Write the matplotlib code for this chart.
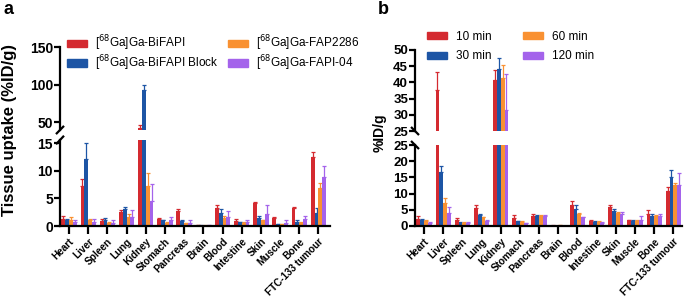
import numpy as np
import matplotlib
matplotlib.use('Agg')
import matplotlib.pyplot as plt
from matplotlib.patches import Patch

plt.rcParams['font.family'] = ['Liberation Sans', 'DejaVu Sans']

organs = ['Heart', 'Liver', 'Spleen', 'Lung', 'Kidney', 'Stomach', 'Pancreas',
          'Brain', 'Blood', 'Intestine', 'Skin', 'Muscle', 'Bone', 'FTC-133 tumour']

# panel a: tracers (mean, upper SD)
labels_a = ['[$^{68}$Ga]Ga-BiFAPI', '[$^{68}$Ga]Ga-BiFAPI Block',
            '[$^{68}$Ga]Ga-FAP2286', '[$^{68}$Ga]Ga-FAPI-04']
bifapi = [1.35, 7.3, 0.97, 2.5, 42.0, 1.2, 2.7, 0.1, 3.3, 0.9, 4.2, 1.45, 3.2, 12.6]
bifapi_sd = [0.4, 1.2, 0.25, 0.35, 4.0, 0.2, 0.45, 0.05, 0.6, 0.4, 0.2, 0.25, 0.25, 0.8]
block = [1.15, 12.1, 1.1, 3.15, 93.0, 1.0, 0.9, 0.05, 2.4, 0.7, 1.5, 0.3, 0.8, 2.3]
block_sd = [0.1, 3.0, 0.4, 0.25, 6.5, 0.1, 0.1, 0.05, 0.7, 0.1, 0.3, 0.1, 0.2, 1.0]
fap2286 = [1.1, 1.15, 0.6, 1.6, 7.2, 0.6, 0.5, 0.05, 1.5, 0.6, 1.0, 0.35, 0.6, 6.9]
fap2286_sd = [0.6, 0.1, 0.1, 0.6, 2.4, 0.1, 0.1, 0.05, 0.3, 0.2, 0.1, 0.1, 0.2, 0.9]
fapi04 = [0.67, 0.7, 0.55, 1.7, 4.5, 1.0, 0.5, 0.1, 1.6, 0.8, 2.1, 0.5, 1.3, 8.8]
fapi04_sd = [0.5, 0.5, 0.45, 1.15, 3.1, 0.6, 0.5, 0.05, 1.1, 0.25, 1.8, 0.6, 0.6, 2.1]

# panel b: BiFAPI time points
labels_b = ['10 min', '30 min', '60 min', '120 min']
t10 = [2.3, 37.7, 1.75, 5.5, 40.8, 2.6, 3.1, 0.1, 6.6, 1.45, 5.8, 1.75, 3.8, 10.7]
t10_sd = [0.7, 5.5, 0.85, 0.9, 2.9, 0.7, 0.75, 0.1, 1.0, 0.3, 0.8, 0.2, 1.2, 1.2]
t30 = [1.75, 16.7, 1.0, 3.5, 44.0, 1.4, 3.2, 0.1, 5.2, 1.2, 4.7, 1.5, 3.2, 15.2]
t30_sd = [0.35, 1.9, 0.2, 0.3, 3.4, 0.2, 0.3, 0.05, 1.2, 0.2, 0.7, 0.2, 0.6, 2.1]
t60 = [1.5, 7.0, 0.9, 2.7, 41.3, 1.2, 3.1, 0.2, 3.6, 1.1, 4.1, 1.6, 3.2, 12.7]
t60_sd = [0.4, 1.5, 0.2, 0.2, 4.2, 0.3, 0.3, 0.1, 0.4, 0.4, 0.3, 0.3, 0.3, 0.6]
t120 = [1.0, 3.9, 1.0, 1.6, 31.6, 0.8, 3.1, 0.05, 2.7, 0.8, 3.8, 1.75, 3.1, 12.7]
t120_sd = [0.2, 2.0, 0.2, 0.15, 10.9, 0.2, 0.3, 0.05, 0.2, 0.3, 0.6, 1.25, 0.7, 3.7]

colors = ['#D42A30', '#1D55A5', '#F99132', '#A463EB']

W, H = 685, 297
fig = plt.figure(figsize=(W / 100, H / 100), dpi=100)


def px_axes(left, right, top, bottom):
    return fig.add_axes([left / W, 1 - bottom / H, (right - left) / W, (bottom - top) / H])


def draw_bars(ax, series, sds):
    x = np.arange(len(organs))
    w = 0.2
    for i, (vals, sd) in enumerate(zip(series, sds)):
        pos = x + (i - 1.5) * w
        ax.bar(pos, vals, width=w, color=colors[i], linewidth=0, zorder=2)
        ax.errorbar(pos, vals, yerr=[np.zeros(len(vals)), sd], fmt='none',
                    ecolor=colors[i], elinewidth=0.9, capsize=1.2, capthick=0.9, zorder=1)


def style(ax, upper, yticks, ysize):
    ax.spines['top'].set_visible(False)
    ax.spines['right'].set_visible(False)
    ax.spines['left'].set_linewidth(1.6)
    ax.spines['bottom'].set_linewidth(1.6)
    ax.set_yticks(yticks)
    ax.tick_params(axis='y', width=1.6, length=4, labelsize=ysize, pad=1)
    for t in ax.get_yticklabels():
        t.set_fontweight('bold')
    if upper:
        ax.spines['bottom'].set_visible(False)
        ax.set_xticks([])
    else:
        ax.set_xticks(np.arange(len(organs)))
        ax.set_xticklabels(organs, rotation=45, ha='right', rotation_mode='anchor',
                           fontsize=7.2, fontweight='bold')
        ax.tick_params(axis='x', width=1.6, length=6, pad=1.5)


def break_mark(ax, y, slope):
    ax.plot([-0.012, 0.012], [y - slope * 0.04, y + slope * 0.04], transform=ax.transAxes,
            color='black', lw=1.6, clip_on=False, zorder=5)


# ---- panel a
xlim_a = (-0.47, 13.6)
a_up = px_axes(60, 330, 47, 130)
a_lo = px_axes(60, 330, 140, 226)
series_a = [bifapi, block, fap2286, fapi04]
sds_a = [bifapi_sd, block_sd, fap2286_sd, fapi04_sd]
for ax in (a_up, a_lo):
    draw_bars(ax, series_a, sds_a)
    ax.set_xlim(*xlim_a)
a_up.set_ylim(40, 150)
a_lo.set_ylim(0, 15.6)
style(a_up, True, [50, 100, 150], 10)
style(a_lo, False, [0, 5, 10, 15], 10)
break_mark(a_up, 0, 1)
break_mark(a_lo, 1, 1)
fig.text(10 / W, 1 - 130 / H, 'Tissue uptake (%ID/g)', rotation=90, ha='center', va='center',
         fontsize=12, fontweight='bold')
fig.text(3 / W, 1 - 10 / H, 'a', fontsize=13, fontweight='bold', va='center')

handles_a = [Patch(color=c, label=l) for c, l in zip(colors, labels_a)]
fig.legend(handles=handles_a, ncol=2, loc='upper left', bbox_to_anchor=(62 / W, 1 - 29 / H),
           frameon=False, fontsize=8.5, handlelength=1.7, handleheight=0.55,
           handletextpad=0.7, columnspacing=0.8, labelspacing=0.0, borderaxespad=0)

# ---- panel b
xlim_b = (-0.47, 13.45)
b_up = px_axes(415, 682, 50, 131)
b_lo = px_axes(415, 682, 145, 226)
series_b = [t10, t30, t60, t120]
sds_b = [t10_sd, t30_sd, t60_sd, t120_sd]
for ax in (b_up, b_lo):
    draw_bars(ax, series_b, sds_b)
    ax.set_xlim(*xlim_b)
b_up.set_ylim(25, 50)
b_lo.set_ylim(0, 25)
style(b_up, True, [25, 30, 35, 40, 45, 50], 9.5)
style(b_lo, False, [0, 5, 10, 15, 20, 25], 9.5)
break_mark(b_up, 0, -1)
break_mark(b_lo, 1, -1)
fig.text(380 / W, 1 - 133 / H, '%ID/g', rotation=90, ha='center', va='center',
         fontsize=10, fontweight='bold')
fig.text(378 / W, 1 - 10 / H, 'b', fontsize=13, fontweight='bold', va='center')

handles_b = [Patch(color=c, label=l) for c, l in zip(colors, labels_b)]
fig.legend(handles=handles_b, ncol=2, loc='upper left', bbox_to_anchor=(422 / W, 1 - 26 / H),
           frameon=False, fontsize=8.5, handlelength=1.7, handleheight=0.55,
           handletextpad=0.8, columnspacing=2.6, labelspacing=0.65, borderaxespad=0)

fig.savefig('out.png', dpi=100)
